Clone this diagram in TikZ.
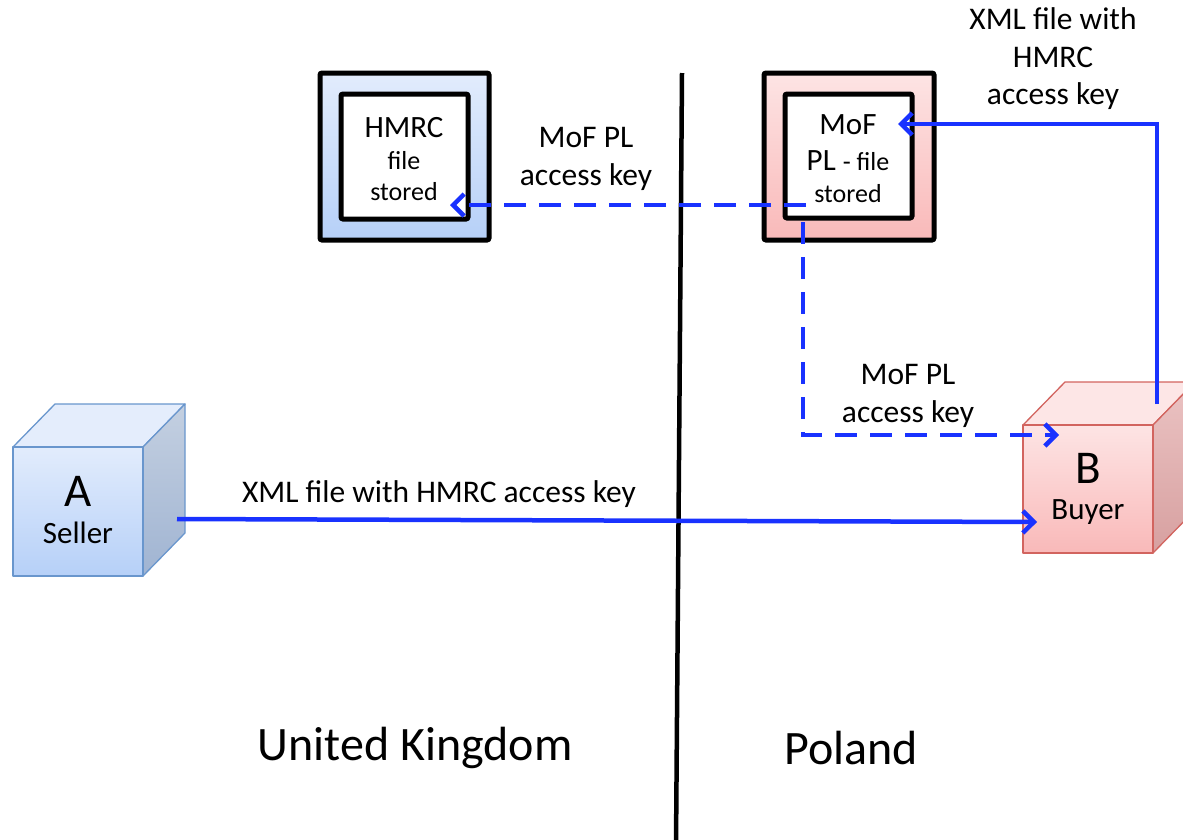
\documentclass[tikz,border=0pt]{standalone}
\usepackage{fontspec}
\setmainfont{Carlito}
\usetikzlibrary{arrows.meta,calc}
\definecolor{flow}{RGB}{25,50,255}
\definecolor{bluetop}{RGB}{226,236,252}
\definecolor{bluebot}{RGB}{182,208,248}
\definecolor{blueedge}{RGB}{105,150,205}
\definecolor{bluetopface}{RGB}{228,237,252}
\definecolor{bluesidetop}{RGB}{196,208,225}
\definecolor{bluesidebot}{RGB}{160,180,210}
\definecolor{pinktop}{RGB}{253,228,228}
\definecolor{pinkbot}{RGB}{249,185,185}
\definecolor{pinkedge}{RGB}{210,100,95}
\definecolor{pinktopface}{RGB}{253,230,230}
\definecolor{pinksidetop}{RGB}{235,195,195}
\definecolor{pinksidebot}{RGB}{215,160,160}
\begin{document}
\begin{tikzpicture}[x=1pt,y=-1pt,
  lbl/.style={font=\fontsize{31.5}{37.5}\selectfont, align=center, inner sep=0pt},
  big/.style={font=\fontsize{48}{56}\selectfont, inner sep=0pt},
  letter/.style={font=\fontsize{47}{52}\selectfont, inner sep=0pt},
  boxtxt/.style={font=\fontsize{26}{30}\selectfont, inner sep=0pt},
  boxbig/.style={font=\fontsize{31}{36}\selectfont, inner sep=0pt},
  frame/.style={draw=black, line width=5pt, rounded corners=2pt},
  flowline/.style={draw=flow, line width=4.5pt, -{Straight Barb[length=11pt,width=22pt]}},
  dashflow/.style={flowline, dash pattern=on 22pt off 13pt},
  edgeA/.style={draw=blueedge, line width=1.3pt, line join=round},
  edgeB/.style={draw=pinkedge, line width=1.3pt, line join=round}]
\useasboundingbox (0,0) rectangle (1183,839);
\clip (0,0) rectangle (1183,839);

% divider
\coordinate (divtop) at (682,73);
\coordinate (divbot) at (676,845);
\draw[line width=4.5pt, black] (divtop) -- (divbot);

% HMRC box
\path[frame, top color=bluetop, bottom color=bluebot] (320,73) rectangle (489,240);
\node[frame, fill=white, minimum width=127pt, minimum height=125pt] (hmrc) at (404.5,156.5) {};
\node[boxbig] (hmrc1) at (404,128) {HMRC};
\node[boxtxt] (hmrc2) at (404,161) {file};
\node[boxtxt] (hmrc3) at (404,192) {stored};

% MoF box
\path[frame, top color=pinktop, bottom color=pinkbot] (764,73) rectangle (934,240);
\node[frame, fill=white, minimum width=127pt, minimum height=124pt] (mof) at (848.5,156) {};
\node[boxbig] (mof1) at (848,125) {MoF};
\node[boxbig, anchor=base] (mof2) at (848,170) {PL {\fontsize{26}{30}\selectfont - file}};
\node[boxtxt] (mof3) at (848,194) {stored};

% cube A
\path[edgeA, fill=bluetopface] (13,447) -- (55,404) -- (185,404) -- (143,447) -- cycle;
\path[edgeA, top color=bluesidetop, bottom color=bluesidebot] (143,447) -- (185,404) -- (185,533) -- (143,576) -- cycle;
\path[edgeA, top color=bluetop, bottom color=bluebot] (13,447) rectangle (143,576);
\node[letter] (A) at (78,491) {A};
\node[boxbig] (seller) at (78,533) {Seller};

% cube B
\path[edgeB, fill=pinktopface] (1023,425) -- (1065,382) -- (1195,382) -- (1153,425) -- cycle;
\path[edgeB, top color=pinksidetop, bottom color=pinksidebot] (1153,425) -- (1195,382) -- (1195,510) -- (1153,553) -- cycle;
\path[edgeB, top color=pinktop, bottom color=pinkbot] (1023,425) rectangle (1153,553);
\node[letter] (B) at (1088,468) {B};
\node[boxbig] (buyer) at (1088,512) {Buyer};

% connector points
\coordinate (a1) at (177,519);
\coordinate (b1) at (1037,522);
\coordinate (b2) at (1157,404);
\coordinate (m1) at (1157,124);
\coordinate (m2) at (898,124);
\coordinate (ms) at (806,205);
\coordinate (h1) at (450,205);
\coordinate (md) at (803,222);
\coordinate (bd1) at (803,435);
\coordinate (bd2) at (1059,435);

\draw[flowline] (a1) -- (b1);
\draw[flowline] (b2) -- (m1) -- (m2);
\draw[dashflow] (ms) -- (h1);
\draw[dashflow] (md) -- (bd1) -- (bd2);

% labels
\node[lbl] (l1) at (439,494) {XML file with HMRC access key};
\node[lbl] (l2) at (586,159) {MoF PL\\access key};
\node[lbl] (l3) at (908,396) {MoF PL\\access key};
\node[lbl] (l4) at (1053,59) {XML file with\\HMRC\\access key};
\node[big] (uk) at (415,748) {United Kingdom};
\node[big] (pl) at (851,748) {Poland};
\end{tikzpicture}
\end{document}
